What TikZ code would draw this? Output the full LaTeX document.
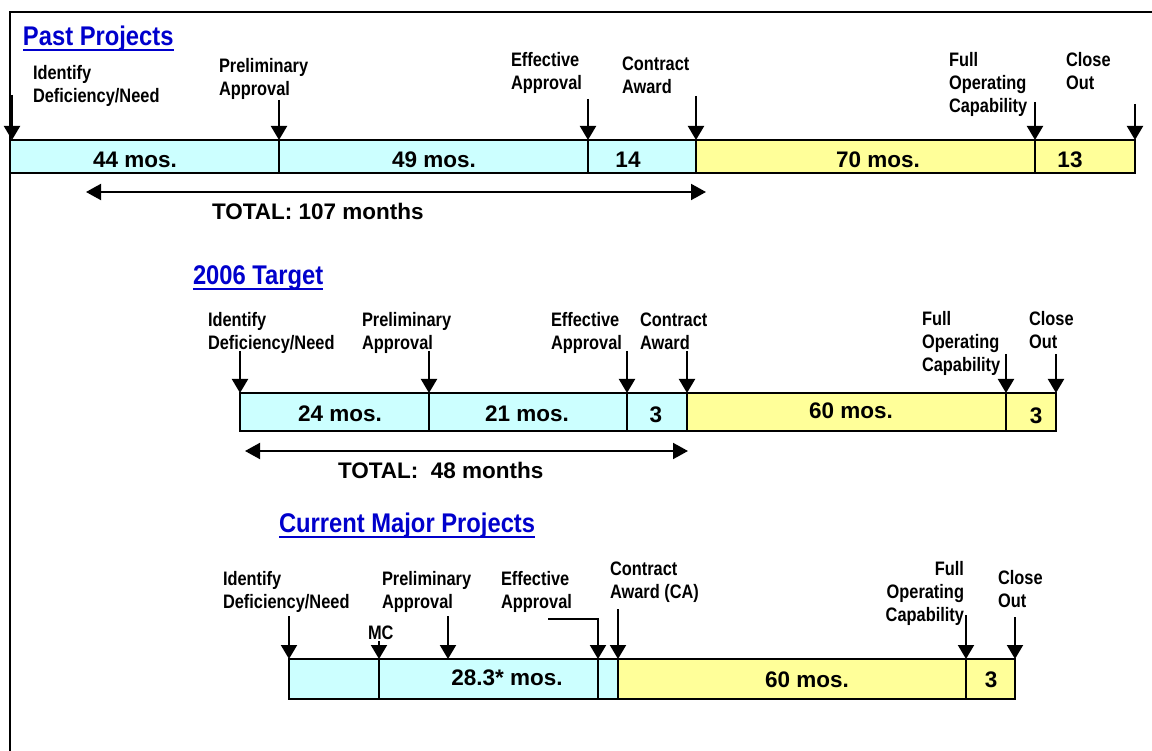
\documentclass[tikz,border=0pt]{standalone}
\usepackage{fontspec}
\setmainfont{Liberation Sans}
\newfontfamily\lblfont[FakeStretch=0.84]{Liberation Sans}
\newfontfamily\ttlfont[FakeStretch=0.88]{Liberation Sans}
\usetikzlibrary{arrows.meta}
\definecolor{barcyan}{HTML}{CCFFFF}
\definecolor{baryellow}{HTML}{FFFF99}
\definecolor{ttlblue}{HTML}{0000CC}
\newcommand\linesl[1]{\begin{tabular}[t]{@{}l@{}}#1\end{tabular}}
\newcommand\linesr[1]{\begin{tabular}[t]{@{}r@{}}#1\end{tabular}}
\begin{document}
\begin{tikzpicture}[x=1pt,y=-1pt,
  seg/.style={draw=black,line width=2pt,inner sep=0pt,outer sep=0pt,anchor=north west},
  cyanseg/.style={seg,fill=barcyan},
  yellowseg/.style={seg,fill=baryellow},
  lbl/.style={inner sep=0pt,outer sep=0pt,anchor=base west,font=\lblfont\bfseries\fontsize{19.5}{23}\selectfont},
  lblr/.style={lbl,anchor=base east},
  bartext/.style={inner sep=0pt,outer sep=0pt,anchor=base,font=\bfseries\fontsize{22.5}{26}\selectfont},
  totaltext/.style={bartext,anchor=base west},
  ttl/.style={inner sep=0pt,outer sep=0pt,anchor=base west,text=ttlblue,font=\ttlfont\bfseries\fontsize{27}{30}\selectfont},
  ulbl/.style={draw=ttlblue,line width=2pt},
  varr/.style={-{Triangle[width=16pt,length=14pt]},line width=2pt},
  darr/.style={{Triangle[width=16pt,length=15pt]}-{Triangle[width=16pt,length=15pt]},line width=2pt},
  frame/.style={line width=2.4pt,line cap=rect}
]
\useasboundingbox (0,0) rectangle (1152,751);

% frame
\coordinate (fr1) at (1152,12);
\coordinate (fr2) at (10,12);
\coordinate (fr3) at (10,751);
\draw[frame] (fr1) -- (fr2) -- (fr3);

% ================= Past Projects =================
\node[ttl] (t1) at (23,46) {Past Projects};
\draw[ulbl] ([yshift=-4.5pt]t1.base west) -- ([yshift=-4.5pt]t1.base east);

\node[cyanseg,minimum width=269pt,minimum height=33pt] (s1a) at (10,140) {};
\node[cyanseg,minimum width=309pt,minimum height=33pt] (s1b) at (279,140) {};
\node[cyanseg,minimum width=108pt,minimum height=33pt] (s1c) at (588,140) {};
\node[yellowseg,minimum width=339pt,minimum height=33pt] (s1d) at (696,140) {};
\node[yellowseg,minimum width=100pt,minimum height=33pt] (s1e) at (1035,140) {};

\node[bartext] (b1a) at (135,168) {44 mos.};
\node[bartext] (b1b) at (434,168) {49 mos.};
\node[bartext] (b1c) at (628,168) {14};
\node[bartext] (b1d) at (878,168) {70 mos.};
\node[bartext] (b1e) at (1070,168) {13};

\node[lbl] (l1a) at (33,80) {\linesl{Identify\\Deficiency/Need}};
\node[lbl] (l1b) at (219,73) {\linesl{Preliminary\\Approval}};
\node[lbl] (l1c) at (511,67) {\linesl{Effective\\Approval}};
\node[lbl] (l1d) at (622,71) {\linesl{Contract\\Award}};
\node[lbl] (l1e) at (949,67) {\linesl{Full\\Operating\\Capability}};
\node[lbl] (l1f) at (1066,67) {\linesl{Close\\Out}};

\coordinate (a1a) at (12,95);
\coordinate (a1b) at (279,100);
\coordinate (a1c) at (588,99);
\coordinate (a1d) at (696,96);
\coordinate (a1e) at (1035,102);
\coordinate (a1f) at (1135,104);
\coordinate (e1a) at (12,140);
\draw[varr] (a1a) -- (e1a);
\draw[varr] (a1b) -- (s1b.north west);
\draw[varr] (a1c) -- (s1c.north west);
\draw[varr] (a1d) -- (s1d.north west);
\draw[varr] (a1e) -- (s1e.north west);
\draw[varr] (a1f) -- (s1e.north east);

\coordinate (d1l) at (86,192);
\coordinate (d1r) at (706,192);
\draw[darr] (d1l) -- (d1r);
\node[totaltext] (tot1) at (212,220) {TOTAL: 107 months};

% ================= 2006 Target =================
\node[ttl] (t2) at (193,285) {2006 Target};
\draw[ulbl] ([yshift=-4.5pt]t2.base west) -- ([yshift=-4.5pt]t2.base east);

\node[cyanseg,minimum width=189pt,minimum height=38pt] (s2a) at (240,393) {};
\node[cyanseg,minimum width=198pt,minimum height=38pt] (s2b) at (429,393) {};
\node[cyanseg,minimum width=60pt,minimum height=38pt] (s2c) at (627,393) {};
\node[yellowseg,minimum width=319pt,minimum height=38pt] (s2d) at (687,393) {};
\node[yellowseg,minimum width=50pt,minimum height=38pt] (s2e) at (1006,393) {};

\node[bartext] (b2a) at (340,421) {24 mos.};
\node[bartext] (b2b) at (527,421) {21 mos.};
\node[bartext] (b2c) at (656,423) {3};
\node[bartext] (b2d) at (851,419) {60 mos.};
\node[bartext] (b2e) at (1036,424) {3};

\node[lbl] (l2a) at (208,327) {\linesl{Identify\\Deficiency/Need}};
\node[lbl] (l2b) at (362,327) {\linesl{Preliminary\\Approval}};
\node[lbl] (l2c) at (551,327) {\linesl{Effective\\Approval}};
\node[lbl] (l2d) at (640,327) {\linesl{Contract\\Award}};
\node[lbl] (l2e) at (922,326) {\linesl{Full\\Operating\\Capability}};
\node[lbl] (l2f) at (1029,326) {\linesl{Close\\Out}};

\coordinate (a2a) at (240,351);
\coordinate (a2b) at (429,351);
\coordinate (a2c) at (627,351);
\coordinate (a2d) at (687,351);
\coordinate (a2e) at (1006,354);
\coordinate (a2f) at (1056,354);
\draw[varr] (a2a) -- (s2a.north west);
\draw[varr] (a2b) -- (s2b.north west);
\draw[varr] (a2c) -- (s2c.north west);
\draw[varr] (a2d) -- (s2d.north west);
\draw[varr] (a2e) -- (s2e.north west);
\draw[varr] (a2f) -- (s2e.north east);

\coordinate (d2l) at (245,451);
\coordinate (d2r) at (688,451);
\draw[darr] (d2l) -- (d2r);
\node[totaltext] (tot2) at (338,478) {TOTAL:\ \ 48 months};

% ================= Current Major Projects =================
\node[ttl] (t3) at (279,532) {Current Major Projects};
\draw[ulbl] ([yshift=-4.5pt]t3.base west) -- ([yshift=-4.5pt]t3.base east);

\node[cyanseg,minimum width=90pt,minimum height=40pt] (s3a) at (289,659) {};
\node[cyanseg,minimum width=219pt,minimum height=40pt] (s3b) at (379,659) {};
\node[cyanseg,minimum width=20pt,minimum height=40pt] (s3c) at (598,659) {};
\node[yellowseg,minimum width=348pt,minimum height=40pt] (s3d) at (618,659) {};
\node[yellowseg,minimum width=49pt,minimum height=40pt] (s3e) at (966,659) {};

\node[bartext] (b3b) at (507,685) {28.3* mos.};
\node[bartext] (b3d) at (807,687) {60 mos.};
\node[bartext] (b3e) at (991,687) {3};

\node[lbl] (l3a) at (223,585) {\linesl{Identify\\Deficiency/Need}};
\node[lbl] (l3mc) at (368,639) {MC};
\node[lbl] (l3b) at (382,585) {\linesl{Preliminary\\Approval}};
\node[lbl] (l3c) at (501,585) {\linesl{Effective\\Approval}};
\node[lbl] (l3d) at (610,575) {\linesl{Contract\\Award (CA)}};
\node[lblr] (l3e) at (964,575) {\linesr{Full\\Operating\\Capability}};
\node[lbl] (l3f) at (998,584) {\linesl{Close\\Out}};

\coordinate (a3a) at (289,616);
\coordinate (a3mc) at (379,641);
\coordinate (a3b) at (448,616);
\coordinate (e3b) at (448,659);
\coordinate (a3c) at (548,619);
\coordinate (a3d) at (618,609);
\coordinate (a3e) at (966,615);
\coordinate (a3f) at (1015,617);
\draw[varr] (a3a) -- (s3a.north west);
\draw[varr] (a3mc) -- (s3b.north west);
\draw[varr] (a3b) -- (e3b);
\draw[varr] (a3c) -| (s3c.north west);
\draw[varr] (a3d) -- (s3d.north west);
\draw[varr] (a3e) -- (s3e.north west);
\draw[varr] (a3f) -- (s3e.north east);
\end{tikzpicture}
\end{document}
